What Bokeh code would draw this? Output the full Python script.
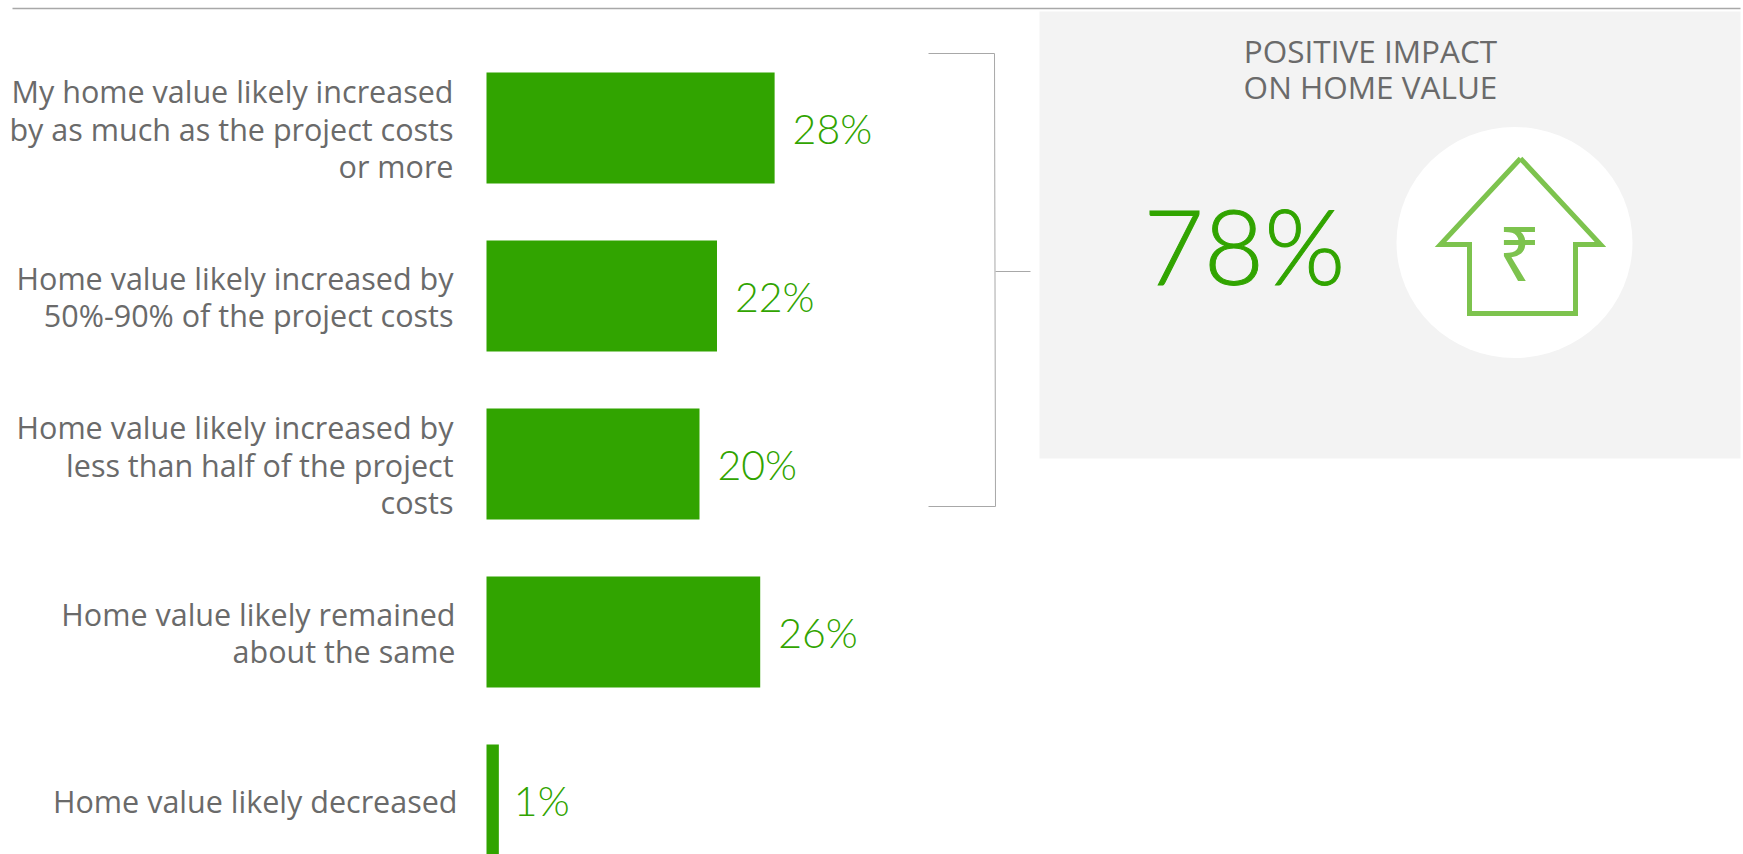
from bokeh.plotting import figure
from bokeh.models import Range1d, ColumnDataSource
from bokeh.core.properties import value
from bokeh.embed import file_html
from bokeh.resources import INLINE

categories = [
    ["My home value likely increased", "by as much as the project costs", "or more"],
    ["Home value likely increased by", "50%-90% of the project costs"],
    ["Home value likely increased by", "less than half of the project", "costs"],
    ["Home value likely remained", "about the same"],
    ["Home value likely decreased"],
]
bar_lengths = [28.0, 22.4, 20.7, 26.6, 1.2]
value_labels = ["28%", "22%", "20%", "26%", "1%"]
panel_title = ["POSITIVE IMPACT", "ON HOME VALUE"]
panel_value = "78%"

GREEN = "#31a400"
GREY = "#6a6a6a"
RULE = "#a8a8a8"
ICON = "#7dc34e"
SANS = "Open Sans"
LIGHT = "Lato Light"

W, H = 1743, 854
PX_PER_UNIT = 10.29
BAR_LEFT = 486
ROW0, STEP = 127.5, 168.0
LABEL_GAP = [-33, -33, -33, -31, -29]
VALUE_GAP = [18, 18, 18, 18, 15]


def X(px):
    return (px - BAR_LEFT) / PX_PER_UNIT


def Y(px):
    return (px - ROW0) / STEP


p = figure(width=W, height=H, output_backend="svg", toolbar_location=None,
           x_range=Range1d(X(0), X(W)), y_range=Range1d(Y(H), Y(0)),
           min_border=0, outline_line_color=None, background_fill_color="white",
           border_fill_color="white")
p.axis.visible = False
p.grid.visible = False

# header rule and panel
p.line([X(12), X(1740)], [Y(8), Y(8)], line_color=RULE, line_width=1.5)
p.quad(left=[X(1039)], right=[X(1740)], top=[Y(11)], bottom=[Y(458)],
       fill_color="#f3f3f3", line_color=None)

# bars
rows = list(range(len(bar_lengths)))
src = ColumnDataSource(dict(y=rows, right=bar_lengths, label=value_labels, gap=VALUE_GAP))
p.hbar(y="y", left=0, right="right", height=111 / STEP, source=src,
       fill_color=GREEN, line_color=None)
p.text(x="right", y="y", text="label", source=src, x_offset="gap", y_offset=0,
       text_font=value(LIGHT), text_font_size="41px", text_color=GREEN,
       text_baseline="alphabetic", text_align="left")

# category labels, one glyph per line
lx, ly, lo, lt, lg = [], [], [], [], []
for i, lines in enumerate(categories):
    for k, line in enumerate(lines):
        lx.append(0)
        ly.append(i)
        lo.append((k - (len(lines) - 1) / 2) * 37.7 + 0.5)
        lt.append(line)
        lg.append(LABEL_GAP[i])
p.text(x=lx, y=ly, text=lt, y_offset=lo, x_offset=lg,
       text_font=value(SANS), text_font_size="30.5px", text_color=GREY,
       text_baseline="alphabetic", text_align="right")

# bracket
p.line([X(928), X(994), X(995), X(928)], [Y(53), Y(53), Y(506), Y(506)],
       line_color=RULE, line_width=1)
p.line([X(995), X(1030)], [Y(271), Y(271)], line_color=RULE, line_width=1)

# panel texts
p.text(x=[X(1370)] * 2, y=[Y(50), Y(86)], text=panel_title,
       text_font=value(SANS), text_font_size="31.5px", text_color=GREY,
       text_baseline="alphabetic", text_align="center")
p.text(x=[X(1143)], y=[Y(244)], text=[panel_value],
       text_font=value(LIGHT), text_font_size="104px", text_color=GREEN,
       text_outline_color=GREEN,
       text_baseline="alphabetic", text_align="left")

# icon
p.ellipse(x=[X(1514)], y=[Y(242)], width=[236 / PX_PER_UNIT], height=[231 / STEP],
          fill_color="white", line_color=None)
hx = [1520, 1600, 1575, 1575, 1469, 1469, 1440, 1520]
hy = [158, 244, 244, 313, 313, 244, 244, 158]
p.line([X(v) for v in hx], [Y(v) for v in hy], line_color=ICON, line_width=5,
       line_join="miter")
p.text(x=[X(1519)], y=[Y(251)], text=["₹"], text_font=value("Noto Sans"),
       text_font_size="75px", text_color=ICON, text_baseline="alphabetic",
       text_align="center")

open("out.html", "w").write(file_html(p, INLINE))
